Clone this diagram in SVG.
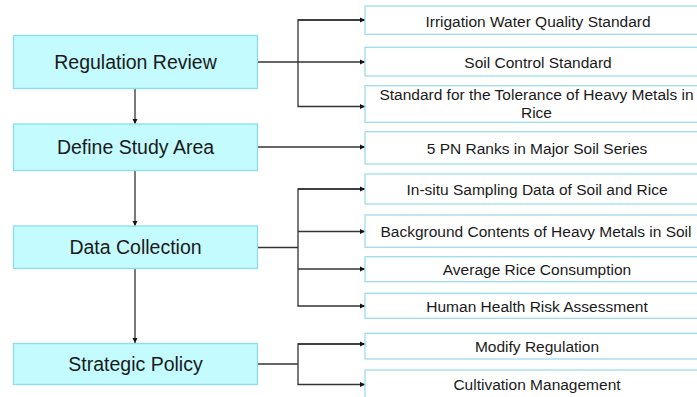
<svg xmlns="http://www.w3.org/2000/svg" width="697" height="397" viewBox="0 0 697 397">
<style>
.main rect{fill:#c4fbff;stroke:#8cdcf0;stroke-width:1.3}
.sub rect{fill:#ffffff;stroke:#9cdcee;stroke-width:1.3}
text{font-family:"Liberation Sans",Arial,sans-serif;fill:#1a1a1a;text-anchor:middle}
.main text{font-size:19.5px}
.sub text{font-size:15.5px}
.conn path{fill:none;stroke:#333;stroke-width:1.3}
</style>
<defs>
<marker id="ah" markerWidth="6" markerHeight="6" refX="5" refY="3" orient="auto" markerUnits="userSpaceOnUse">
<path d="M0,0.5 L5,3 L0,5.5 Z" fill="#111"/>
</marker>
</defs>
<rect width="697" height="397" fill="#fff"/>
<g class="conn">
<path d="M135,89 V124" marker-end="url(#ah)"/>
<path d="M135,171 V226" marker-end="url(#ah)"/>
<path d="M135,269 V343" marker-end="url(#ah)"/>
<path d="M258,62 H365" marker-end="url(#ah)"/>
<path d="M365,20 H298 V106.5 H365" marker-end="url(#ah)"/>
<path d="M298,20 H365" marker-end="url(#ah)"/>
<path d="M258,147 H365" marker-end="url(#ah)"/>
<path d="M258,247.5 H298"/>
<path d="M365,189 H298 V306 H365" marker-end="url(#ah)"/>
<path d="M298,189 H365" marker-end="url(#ah)"/>
<path d="M298,231.5 H365" marker-end="url(#ah)"/>
<path d="M298,269 H365" marker-end="url(#ah)"/>
<path d="M258,364 H298"/>
<path d="M365,344 H298 V384.5 H365" marker-end="url(#ah)"/>
<path d="M298,344 H365" marker-end="url(#ah)"/>
</g>
<g id="regulation-review" class="main"><rect x="13.5" y="35.5" width="244" height="53"/><text x="135.5" y="69.3">Regulation Review</text></g>
<g id="define-study-area" class="main"><rect x="13.5" y="124" width="244" height="46.5"/><text x="135.5" y="154.3">Define Study Area</text></g>
<g id="data-collection" class="main"><rect x="13.5" y="226" width="244" height="42.5"/><text x="135.5" y="254.3">Data Collection</text></g>
<g id="strategic-policy" class="main"><rect x="13.5" y="343.5" width="244" height="41"/><text x="135.5" y="371">Strategic Policy</text></g>
<g id="irrigation" class="sub"><rect x="365" y="6" width="345" height="28.3"/><text x="538" y="26.5">Irrigation Water Quality Standard</text></g>
<g id="soil-control" class="sub"><rect x="365" y="47.3" width="345" height="28.7"/><text x="538" y="67.7">Soil Control Standard</text></g>
<g id="tolerance" class="sub"><rect x="365" y="85.7" width="345" height="36.6"/><text x="536.5" y="100">Standard for the Tolerance of Heavy Metals in</text><text x="536.5" y="118.3">Rice</text></g>
<g id="pn-ranks" class="sub"><rect x="365" y="131.7" width="345" height="32.3"/><text x="537" y="154">5 PN Ranks in Major Soil Series</text></g>
<g id="in-situ" class="sub"><rect x="365" y="174" width="345" height="30"/><text x="537" y="195">In-situ Sampling Data of Soil and Rice</text></g>
<g id="background" class="sub"><rect x="365" y="215" width="345" height="32.3"/><text x="536" y="236.7">Background Contents of Heavy Metals in Soil</text></g>
<g id="rice-consumption" class="sub"><rect x="365" y="256.7" width="345" height="25"/><text x="537" y="275">Average Rice Consumption</text></g>
<g id="health-risk" class="sub"><rect x="365" y="293.3" width="345" height="25"/><text x="537" y="311.7">Human Health Risk Assessment</text></g>
<g id="modify-regulation" class="sub"><rect x="365" y="333.3" width="345" height="25.7"/><text x="537" y="352.3">Modify Regulation</text></g>
<g id="cultivation" class="sub"><rect x="365" y="370" width="345" height="40"/><text x="537" y="390">Cultivation Management</text></g>
</svg>
